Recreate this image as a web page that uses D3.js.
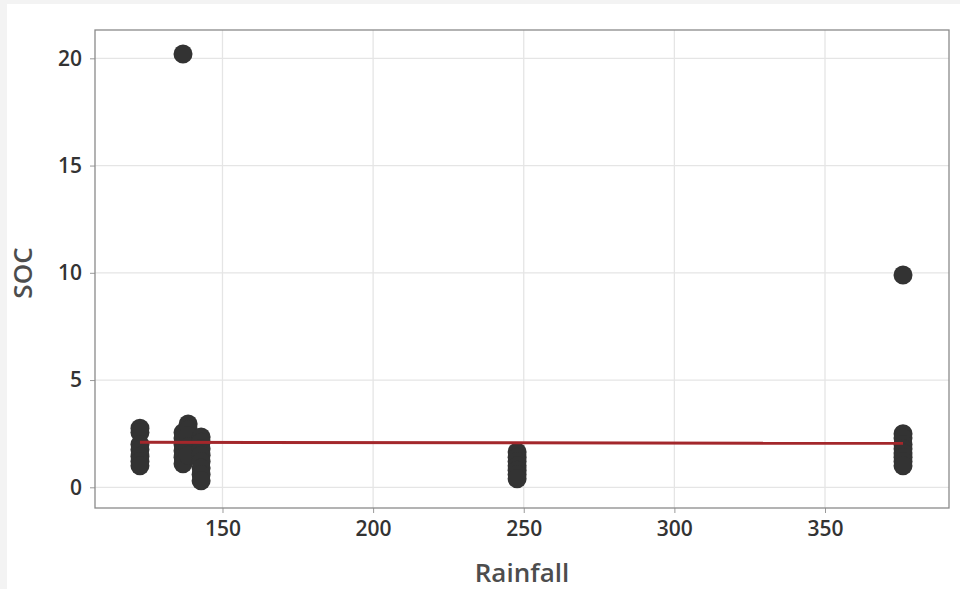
<!DOCTYPE html>
<html>
<head>
<meta charset="utf-8">
<script src="https://cdn.jsdelivr.net/npm/d3@7/dist/d3.min.js"></script>
<style>
  html, body { margin: 0; padding: 0; background: #f3f3f3; }
  svg { display: block; }
  text { font-family: "Open Sans", "Noto Sans", sans-serif; }
</style>
</head>
<body>
<svg id="chart" width="960" height="589"></svg>
<script>
// Rainfall (x) and SOC (y) observations
const rainfall = [
  122.6, 122.6, 122.6, 122.6, 122.6, 122.6, 122.6,
  136.9, 136.9, 136.9, 136.9, 136.9, 136.9, 136.9,
  138.6, 138.6, 138.6, 138.6, 138.6,
  142.9, 142.9, 142.9, 142.9, 142.9, 142.9, 142.9, 142.9,
  247.8, 247.8, 247.8, 247.8, 247.8, 247.8, 247.8,
  375.9, 375.9, 375.9, 375.9, 375.9, 375.9, 375.9, 375.9, 375.9
];
const soc = [
  2.75, 2.55, 2.0, 1.75, 1.45, 1.2, 1.0,
  20.2, 2.55, 2.3, 2.0, 1.7, 1.4, 1.1,
  2.95, 2.7, 2.4, 1.9, 1.5,
  2.35, 2.1, 1.8, 1.5, 1.2, 0.9, 0.6, 0.3,
  1.65, 1.4, 1.2, 1.0, 0.8, 0.6, 0.4,
  9.9, 2.5, 2.3, 2.0, 1.8, 1.6, 1.4, 1.2, 1.0
];

// Fitted regression line endpoints [rainfall, SOC]
const fitLine = [[122.6, 2.10], [375.9, 2.05]];

const xTicks = [150, 200, 250, 300, 350];
const yTicks = [0, 5, 10, 15, 20];
const xTitle = "Rainfall";
const yTitle = "SOC";

const svg = d3.select("#chart");
const W = 960, H = 589;
const plot = { left: 95, right: 949, top: 30, bottom: 508 };

// white panel
svg.append("rect").attr("x", 7).attr("y", 4).attr("width", W - 7).attr("height", H - 4).attr("fill", "#ffffff");

const x = d3.scaleLinear().domain([107.68, 391.16]).range([plot.left, plot.right]);
const y = d3.scaleLinear().domain([-0.965, 21.32]).range([plot.bottom, plot.top]);

// gridlines
const grid = svg.append("g");
grid.selectAll("line.gx").data(xTicks).join("line")
  .attr("x1", d => x(d)).attr("x2", d => x(d))
  .attr("y1", plot.top).attr("y2", plot.bottom)
  .attr("stroke", "#e5e5e5").attr("stroke-width", 1.3);
grid.selectAll("line.gy").data(yTicks).join("line")
  .attr("x1", plot.left).attr("x2", plot.right)
  .attr("y1", d => y(d)).attr("y2", d => y(d))
  .attr("stroke", "#e5e5e5").attr("stroke-width", 1.3);

// axes
const xAxis = d3.axisBottom(x).tickValues(xTicks).tickSize(5).tickPadding(8);
const yAxis = d3.axisLeft(y).tickValues(yTicks).tickSize(5).tickPadding(8);

const gx = svg.append("g").attr("transform", `translate(0,${plot.bottom})`).call(xAxis);
const gy = svg.append("g").attr("transform", `translate(${plot.left},0)`).call(yAxis);
[gx, gy].forEach(g => {
  g.select(".domain").remove();
  g.selectAll(".tick line").attr("stroke", "#9a9a9a");
  g.selectAll(".tick text").attr("fill", "#333333")
    .style("font-size", "21px").style("font-weight", "600");
});

// plot frame
svg.append("rect")
  .attr("x", plot.left).attr("y", plot.top)
  .attr("width", plot.right - plot.left).attr("height", plot.bottom - plot.top)
  .attr("fill", "none").attr("stroke", "#8a8a8a").attr("stroke-width", 1.3);

// points
svg.append("g").selectAll("circle").data(d3.range(rainfall.length)).join("circle")
  .attr("cx", i => x(rainfall[i]))
  .attr("cy", i => y(soc[i]))
  .attr("r", 9.5)
  .attr("fill", "#333333");

// fitted line
svg.append("path")
  .datum(fitLine)
  .attr("d", d3.line().x(d => x(d[0])).y(d => y(d[1])))
  .attr("fill", "none")
  .attr("stroke", "#a3272b")
  .attr("stroke-width", 3);

// axis titles
svg.append("text")
  .attr("x", (plot.left + plot.right) / 2).attr("y", 582)
  .attr("text-anchor", "middle")
  .attr("fill", "#4d4d4d")
  .style("font-size", "26px").style("font-weight", "600")
  .text(xTitle);
svg.append("text")
  .attr("transform", `translate(32,${(plot.top + plot.bottom) / 2 + 4}) rotate(-90)`)
  .attr("text-anchor", "middle")
  .attr("fill", "#4d4d4d")
  .style("font-size", "26px").style("font-weight", "600")
  .text(yTitle);
</script>
</body>
</html>
